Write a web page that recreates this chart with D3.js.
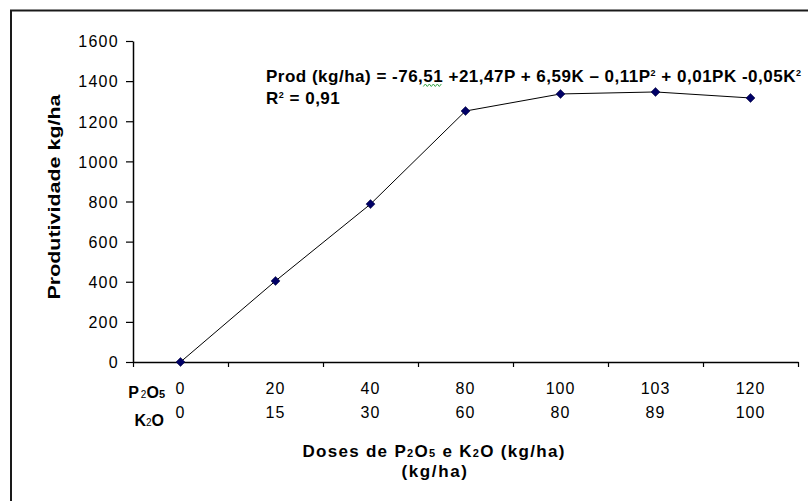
<!DOCTYPE html>
<html>
<head>
<meta charset="utf-8">
<script src="https://cdn.jsdelivr.net/npm/d3@7"></script>
<style>
	html, body { margin: 0; padding: 0; background: #fff; }
	svg text { font-family: "Liberation Sans", Arial, sans-serif; fill: #000; }
</style>
</head>
<body>
<div id="chart"></div>
<script>
// doses (kg/ha) and yield
let p2o5Doses	= ['0', '20', '40', '80', '100', '103', '120'];
let k2oDoses	= ['0', '15', '30', '60', '80', '89', '100'];
let prodValues	= [0, 404, 787, 1251, 1336, 1346, 1316];
let yTicks		= [0, 200, 400, 600, 800, 1000, 1200, 1400, 1600];

let width	= 808;
let height	= 501;
let plot	= { left: 133, right: 798, top: 41, bottom: 362 };

let svg = d3.select('#chart').append('svg')
	.attr('width', width)
	.attr('height', height);

// outer frame (runs off the right / bottom edge in the original)
svg.append('rect')
	.attr('x', 11).attr('y', 10.5)
	.attr('width', 830).attr('height', 530)
	.attr('fill', 'none')
	.attr('stroke', '#1a1a1a')
	.attr('stroke-width', 2);

let x = d3.scaleBand()
	.domain(d3.range(p2o5Doses.length))
	.range([plot.left, plot.right]);

let xEdge = d3.scaleLinear()
	.domain([0, p2o5Doses.length])
	.range([plot.left, plot.right]);

let y = d3.scaleLinear()
	.domain([0, 1600])
	.range([plot.bottom, plot.top]);

// y axis
let yAxis = svg.append('g')
	.attr('transform', 'translate(' + plot.left + ',0)')
	.call(d3.axisLeft(y).tickValues(yTicks).tickFormat(d3.format('d')).tickSize(7).tickPadding(7).tickSizeOuter(0));

yAxis.select('.domain').attr('stroke', '#000').attr('stroke-width', 1.5);
yAxis.selectAll('.tick line').attr('stroke', '#000').attr('stroke-width', 1.2);
yAxis.selectAll('.tick text')
	.style('font-size', '16px')
	.style('letter-spacing', '1.3px')
	.attr('dy', '0.36em');

// x axis, ticks on the category edges
let xAxis = svg.append('g')
	.attr('transform', 'translate(0,' + plot.bottom + ')')
	.call(d3.axisBottom(xEdge).tickValues(d3.range(p2o5Doses.length + 1)).tickFormat('').tickSize(5).tickSizeOuter(0));

xAxis.select('.domain').attr('stroke', '#000').attr('stroke-width', 1.5);
xAxis.selectAll('.tick line').attr('stroke', '#000').attr('stroke-width', 1.2);

// two rows of category labels
let catRows = [
	{ labels: p2o5Doses, y: 394 },
	{ labels: k2oDoses, y: 418 }
];

catRows.forEach((row) => {
	svg.append('g').selectAll('text').data(row.labels).enter().append('text')
		.attr('x', (d, i) => x(i) + x.bandwidth() / 2)
		.attr('y', row.y)
		.attr('text-anchor', 'middle')
		.style('font-size', '16px')
		.style('letter-spacing', '1px')
		.text((d) => d);
});

// row captions
let capP = svg.append('text')
	.attr('x', 165).attr('y', 398)
	.attr('text-anchor', 'end')
	.style('font-size', '16px')
	.style('font-weight', 'bold');
capP.append('tspan').text('P');
capP.append('tspan').style('font-size', '10px').style('font-weight', 'normal').attr('dx', 2).text('2');
capP.append('tspan').text('O');
capP.append('tspan').style('font-size', '11px').text('5');

let capK = svg.append('text')
	.attr('x', 164).attr('y', 426)
	.attr('text-anchor', 'end')
	.style('font-size', '16px')
	.style('font-weight', 'bold');
capK.append('tspan').text('K');
capK.append('tspan').style('font-size', '10px').style('font-weight', 'normal').text('2');
capK.append('tspan').text('O');

// line + markers
let line = d3.line()
	.x((d, i) => x(i) + x.bandwidth() / 2)
	.y((d) => y(d));

svg.append('path')
	.datum(prodValues)
	.attr('d', line)
	.attr('fill', 'none')
	.attr('stroke', '#000')
	.attr('stroke-width', 1);

svg.append('g').selectAll('path').data(prodValues).enter().append('path')
	.attr('transform', (d, i) => 'translate(' + (x(i) + x.bandwidth() / 2) + ',' + y(d) + ')')
	.attr('d', 'M0,-4.5L4.5,0L0,4.5L-4.5,0Z')
	.attr('fill', '#000066')
	.attr('stroke', '#000033')
	.attr('stroke-width', 0.5);

// axis titles
svg.append('text')
	.attr('transform', 'translate(60,197)rotate(-90)')
	.attr('text-anchor', 'middle')
	.attr('textLength', 205)
	.attr('lengthAdjust', 'spacingAndGlyphs')
	.style('font-size', '17px')
	.style('font-weight', 'bold')
	.text('Produtividade kg/ha');

let xTitle = svg.append('text')
	.attr('x', 434).attr('y', 457)
	.attr('text-anchor', 'middle')
	.style('font-size', '17px')
	.style('letter-spacing', '1.3px')
	.style('font-weight', 'bold');
xTitle.append('tspan').text('Doses de P');
xTitle.append('tspan').style('font-size', '11px').text('2');
xTitle.append('tspan').text('O');
xTitle.append('tspan').style('font-size', '11px').text('5');
xTitle.append('tspan').text(' e K');
xTitle.append('tspan').style('font-size', '11px').text('2');
xTitle.append('tspan').text('O (kg/ha)');

svg.append('text')
	.attr('x', 435).attr('y', 477)
	.attr('text-anchor', 'middle')
	.style('font-size', '17px')
	.style('letter-spacing', '1.6px')
	.style('font-weight', 'bold')
	.text('(kg/ha)');

// regression equation
let eq = svg.append('text')
	.attr('x', 266).attr('y', 82)
	.style('font-size', '17px')
	.style('letter-spacing', '0.5px')
	.style('font-weight', 'bold');
eq.append('tspan').text('Prod (kg/ha) = -76,51 +21,47P + 6,59K \u2013 0,11P');
eq.append('tspan').attr('dy', -6).style('font-size', '9px').text('2');
eq.append('tspan').attr('dy', 6).text(' + 0,01PK -0,05K');
eq.append('tspan').attr('dy', -6).style('font-size', '9px').text('2');

let r2 = svg.append('text')
	.attr('x', 266).attr('y', 104)
	.style('font-size', '17px')
	.style('letter-spacing', '0.5px')
	.style('font-weight', 'bold');
r2.append('tspan').text('R');
r2.append('tspan').attr('dy', -6).style('font-size', '9px').text('2');
r2.append('tspan').attr('dy', 6).text(' = 0,91');

// spell-check squiggle under "51"
let eqNode	= eq.node();
let i51		= 'Prod (kg/ha) = -76,'.length;
let c0		= eqNode.getExtentOfChar(i51);
let c1		= eqNode.getExtentOfChar(i51 + 1);
let sx0		= c0.x, sx1 = c1.x + c1.width;
let wave	= [];
for (let k = 0; sx0 + k * 2 <= sx1; k++) wave.push([sx0 + k * 2, k % 2 ? 84 : 86.5]);
svg.append('path')
	.attr('d', d3.line()(wave))
	.attr('fill', 'none')
	.attr('stroke', '#3aa64a')
	.attr('stroke-width', 1);
</script>
</body>
</html>
